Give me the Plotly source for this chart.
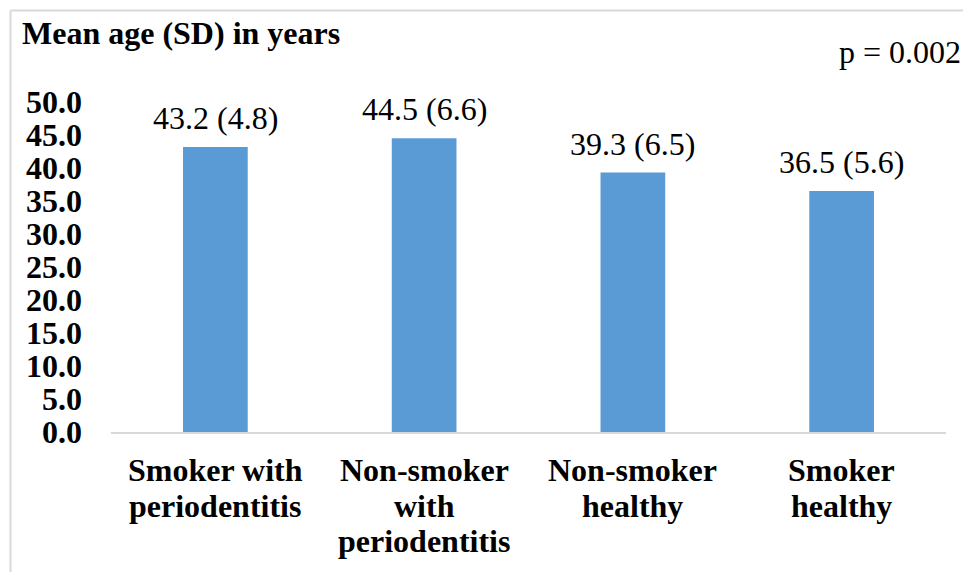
import plotly.graph_objects as go

# Mean age and standard deviation per study group
categories = [
    "Smoker with<br>periodentitis",
    "Non-smoker<br>with<br>periodentitis",
    "Non-smoker<br>healthy",
    "Smoker<br>healthy",
]
mean_age = [43.2, 44.5, 39.3, 36.5]
sd_age = [4.8, 6.6, 6.5, 5.6]
y_ticks = [0, 5, 10, 15, 20, 25, 30, 35, 40, 45, 50]

FONT = "'Times New Roman', 'Liberation Serif', Times, serif"
FS = 32
BAR_COLOR = "#5b9bd5"
FRAME_COLOR = "#d9d9d9"

W, H = 963, 572
L, R, T, B = 111, 17, 102, 140
plot_w = W - L - R
plot_h = H - T - B


def px_to_paper_x(px):
    return (px - L) / plot_w


def px_to_paper_y(py):
    return (H - B - py) / plot_h


fig = go.Figure()
fig.add_trace(
    go.Bar(
        x=categories,
        y=mean_age,
        marker=dict(color=BAR_COLOR, line=dict(width=0)),
        hoverinfo="skip",
    )
)

# value labels above each bar
for cat, m, sd in zip(categories, mean_age, sd_age):
    fig.add_annotation(
        x=cat, y=m, xref="x", yref="y",
        text=f"{m:.1f} ({sd:.1f})",
        showarrow=False, yanchor="middle", yshift=29,
        font=dict(family=FONT, size=FS, color="black"),
    )

# category labels, one line at a time for tighter line spacing
FIRST_LINE = 38   # px below the axis line to the first line centre
LINE_STEP = 35.5  # px between consecutive lines
for cat in categories:
    for i, line in enumerate(cat.split("<br>")):
        fig.add_annotation(
            x=cat, y=0, xref="x", yref="paper",
            text=f"<b>{line}</b>", showarrow=False,
            xanchor="center", yanchor="middle",
            yshift=-(FIRST_LINE + i * LINE_STEP),
            font=dict(family=FONT, size=FS, color="black"),
        )

# chart title and p-value
fig.add_annotation(
    x=px_to_paper_x(20), y=px_to_paper_y(33), xref="paper", yref="paper",
    text="<b>Mean age (SD) in years</b>", showarrow=False,
    xanchor="left", yanchor="middle",
    font=dict(family=FONT, size=FS, color="black"),
)
fig.add_annotation(
    x=px_to_paper_x(963), y=px_to_paper_y(52), xref="paper", yref="paper",
    text="p = 0.002", showarrow=False,
    xanchor="right", yanchor="middle",
    font=dict(family=FONT, size=FS, color="black"),
)

# outer frame (top and left edges)
fx0 = px_to_paper_x(10.5)
fy_top = px_to_paper_y(10.5)
fy_bot = px_to_paper_y(600)
fx1 = px_to_paper_x(1000)
fig.add_shape(type="line", xref="paper", yref="paper",
              x0=fx0, y0=fy_bot, x1=fx0, y1=fy_top,
              line=dict(color=FRAME_COLOR, width=2))
fig.add_shape(type="line", xref="paper", yref="paper",
              x0=fx0, y0=fy_top, x1=fx1, y1=fy_top,
              line=dict(color=FRAME_COLOR, width=2))

fig.update_layout(
    width=W, height=H,
    margin=dict(l=L, r=R, t=T, b=B, pad=0),
    paper_bgcolor="white", plot_bgcolor="white",
    bargap=0.69,
    showlegend=False,
    font=dict(family=FONT, color="black"),
)
fig.update_xaxes(
    showgrid=False, showline=True, linecolor=FRAME_COLOR, linewidth=2,
    ticks="", showticklabels=False,
)
fig.update_yaxes(
    range=[0, 50], tickvals=y_ticks, tickformat=".1f",
    showgrid=False, showline=False, zeroline=False, ticks="",
    tickfont=dict(family=FONT, size=FS, color="black", weight="bold"),
    ticklabelstandoff=28,
)

fig.write_html("out.html")
